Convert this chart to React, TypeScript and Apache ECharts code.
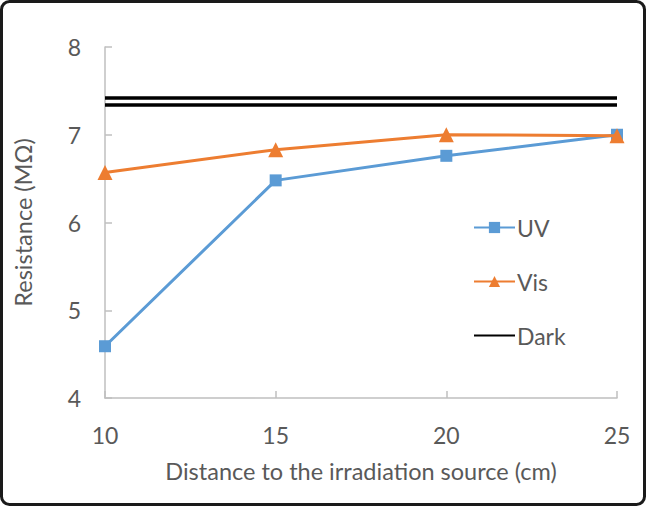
import React, { useEffect, useRef } from "react";
import * as echarts from "echarts";

const distances = [10, 15, 20, 25];
const uvValues = [4.59, 6.48, 6.76, 7.0];
const visValues = [6.57, 6.83, 7.0, 6.99];
const darkUpper = [7.42, 7.42];
const darkLower = [7.34, 7.34];
const darkX = [10, 25];

const FONT = "Lato";
const TXT = "#595959";

export default function App() {
  const ref = useRef<HTMLDivElement>(null);
  useEffect(() => {
    document.body.style.margin = "0";
    const chart = echarts.init(ref.current!, null, { renderer: "svg" });
    chart.setOption({
      animation: false,
      backgroundColor: "#fff",
      textStyle: { fontFamily: FONT, color: TXT },
      graphic: [
        {
          type: "rect",
          shape: { x: 1.5, y: 1.5, width: 643, height: 503, r: 8 },
          style: { fill: "none", stroke: "#1a1a1a", lineWidth: 3 },
          silent: true,
          z: 100,
        },
      ],
      grid: { left: 105, right: 29, top: 47, bottom: 108, containLabel: false },
      legend: {
        orient: "vertical",
        left: 468,
        top: 211,
        itemGap: 31,
        itemWidth: 41,
        itemHeight: 14,
        data: [
          { name: "UV" },
          { name: "Vis" },
          { name: "Dark", itemStyle: { opacity: 0 } },
        ],
        textStyle: { fontFamily: FONT, fontSize: 23, color: TXT, padding: [0, 0, 0, -3] },
      },
      xAxis: {
        type: "value",
        min: 10,
        max: 25,
        interval: 5,
        name: "Distance to the irradiation source (cm)",
        nameLocation: "middle",
        nameGap: 61,
        nameTextStyle: { fontFamily: FONT, fontSize: 23.5, color: TXT },
        axisLine: { show: true, lineStyle: { color: "#bfbfbf", width: 1.5 } },
        axisTick: { show: true, inside: true, length: 7, lineStyle: { color: "#bfbfbf", width: 1.5 } },
        axisLabel: { fontFamily: FONT, fontSize: 23, color: TXT, margin: 25 },
        splitLine: { show: false },
      },
      yAxis: {
        type: "value",
        min: 4,
        max: 8,
        interval: 1,
        name: "Resistance (MΩ)",
        nameLocation: "middle",
        nameGap: 70,
        nameTextStyle: { fontFamily: FONT, fontSize: 23.5, color: TXT },
        axisLine: { show: true, lineStyle: { color: "#bfbfbf", width: 1.5 } },
        axisTick: { show: true, inside: true, length: 7, lineStyle: { color: "#bfbfbf", width: 1.5 } },
        axisLabel: { fontFamily: FONT, fontSize: 23, color: TXT, margin: 24 },
        splitLine: { show: false },
      },
      series: [
        {
          name: "UV",
          type: "line",
          data: distances.map((d, i) => [d, uvValues[i]]),
          symbol: "rect",
          symbolSize: 12,
          lineStyle: { color: "#5B9BD5", width: 3 },
          itemStyle: { color: "#5B9BD5" },
          z: 3,
        },
        {
          name: "Vis",
          type: "line",
          data: distances.map((d, i) => [d, visValues[i]]),
          symbol: "triangle",
          symbolSize: 15,
          lineStyle: { color: "#ED7D31", width: 3 },
          itemStyle: { color: "#ED7D31" },
          z: 4,
        },
        {
          name: "Dark",
          type: "line",
          data: darkX.map((d, i) => [d, darkUpper[i]]),
          symbol: "none",
          lineStyle: { color: "#000", width: 3.5 },
          itemStyle: { color: "#000" },
        },
        {
          name: "Dark",
          type: "line",
          data: darkX.map((d, i) => [d, darkLower[i]]),
          symbol: "none",
          lineStyle: { color: "#000", width: 3.5 },
          itemStyle: { color: "#000" },
        },
      ],
    });
    return () => chart.dispose();
  }, []);
  return <div ref={ref} style={{ width: 646, height: 506 }} />;
}
